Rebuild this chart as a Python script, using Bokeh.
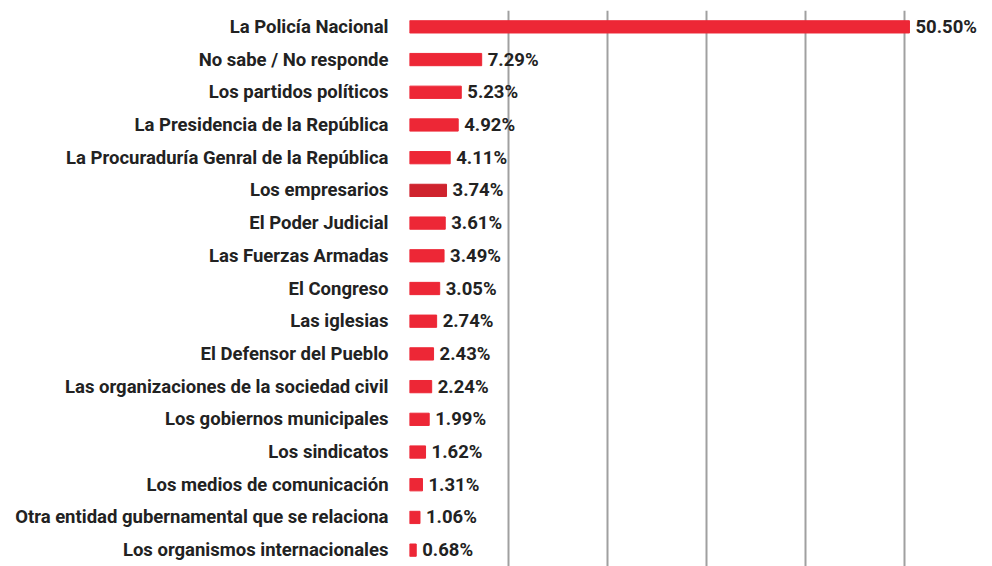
from bokeh.plotting import figure
from bokeh.models import FactorRange, Range1d, FixedTicker, ColumnDataSource
from bokeh.core.properties import value
from bokeh.embed import file_html
from bokeh.resources import INLINE

categories = [
    "La Policía Nacional",
    "No sabe / No responde",
    "Los partidos políticos",
    "La Presidencia de la República",
    "La Procuraduría Genral de la República",
    "Los empresarios",
    "El Poder Judicial",
    "Las Fuerzas Armadas",
    "El Congreso",
    "Las iglesias",
    "El Defensor del Pueblo",
    "Las organizaciones de la sociedad civil",
    "Los gobiernos municipales",
    "Los sindicatos",
    "Los medios de comunicación",
    "Otra entidad gubernamental que se relaciona",
    "Los organismos internacionales",
]
values = [50.50, 7.29, 5.23, 4.92, 4.11, 3.74, 3.61, 3.49, 3.05, 2.74, 2.43, 2.24, 1.99, 1.62, 1.31, 1.06, 0.68]
grid_ticks = [0, 10, 20, 30, 40, 50]

RED = "#ed2736"
DARK = "#cf232e"
colors = [DARK if c == "Los empresarios" else RED for c in categories]
labels = [f"{v:.2f}%" for v in values]

src = ColumnDataSource(dict(cat=categories, val=values, color=colors, label=labels))

p = figure(
    width=984, height=566,
    y_range=FactorRange(factors=list(reversed(categories)), range_padding=0),
    x_range=Range1d(0, 58.08),
    output_backend="svg", toolbar_location=None,
    x_axis_location=None,
    min_border_left=409, min_border_right=0, min_border_top=10, min_border_bottom=0,
)
p.outline_line_color = None
p.background_fill_color = "white"
p.border_fill_color = "white"

p.hbar(y="cat", right="val", left=0, height=0.375, color="color", source=src)
p.text(x="val", y="cat", text="label", source=src, x_offset=6,
       text_baseline="middle", text_align="left",
       text_font=value("Roboto"), text_font_style="bold",
       text_font_size="18.5px", text_color="#222222")

p.xgrid.ticker = FixedTicker(ticks=grid_ticks)
p.xgrid.grid_line_color = "#a0a0a0"
p.xgrid.grid_line_width = 2
p.ygrid.grid_line_color = None

ax = p.yaxis[0]
ax.axis_line_color = None
ax.major_tick_line_color = None
ax.minor_tick_line_color = None
ax.major_label_text_font = "Roboto"
ax.major_label_text_font_style = "bold"
ax.major_label_text_font_size = "18.5px"
ax.major_label_text_color = "#222222"
ax.major_label_standoff = 15

open("out.html", "w").write(file_html(p, INLINE))
